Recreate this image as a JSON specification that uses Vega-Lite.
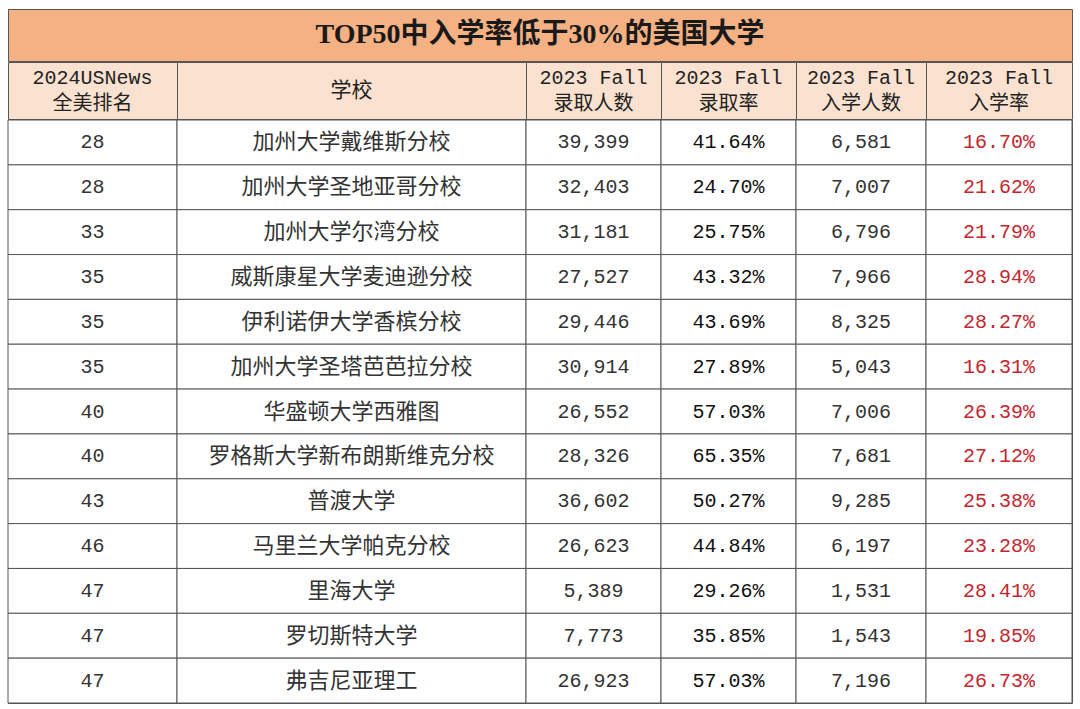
{
  "$schema": "https://vega.github.io/schema/vega-lite/v6.json",
  "padding": {"left": 7, "top": 8, "right": 8, "bottom": 4},
  "background": "white",
  "spacing": -2,
  "config": {"concat": {"spacing": 0}},
  "datasets": {
    "rows": [
      {"rank": 28, "school": "加州大学戴维斯分校", "admitted": 39399, "admit_rate": 0.4164, "enrolled": 6581, "yield": 0.1670},
      {"rank": 28, "school": "加州大学圣地亚哥分校", "admitted": 32403, "admit_rate": 0.2470, "enrolled": 7007, "yield": 0.2162},
      {"rank": 33, "school": "加州大学尔湾分校", "admitted": 31181, "admit_rate": 0.2575, "enrolled": 6796, "yield": 0.2179},
      {"rank": 35, "school": "威斯康星大学麦迪逊分校", "admitted": 27527, "admit_rate": 0.4332, "enrolled": 7966, "yield": 0.2894},
      {"rank": 35, "school": "伊利诺伊大学香槟分校", "admitted": 29446, "admit_rate": 0.4369, "enrolled": 8325, "yield": 0.2827},
      {"rank": 35, "school": "加州大学圣塔芭芭拉分校", "admitted": 30914, "admit_rate": 0.2789, "enrolled": 5043, "yield": 0.1631},
      {"rank": 40, "school": "华盛顿大学西雅图", "admitted": 26552, "admit_rate": 0.5703, "enrolled": 7006, "yield": 0.2639},
      {"rank": 40, "school": "罗格斯大学新布朗斯维克分校", "admitted": 28326, "admit_rate": 0.6535, "enrolled": 7681, "yield": 0.2712},
      {"rank": 43, "school": "普渡大学", "admitted": 36602, "admit_rate": 0.5027, "enrolled": 9285, "yield": 0.2538},
      {"rank": 46, "school": "马里兰大学帕克分校", "admitted": 26623, "admit_rate": 0.4484, "enrolled": 6197, "yield": 0.2328},
      {"rank": 47, "school": "里海大学", "admitted": 5389, "admit_rate": 0.2926, "enrolled": 1531, "yield": 0.2841},
      {"rank": 47, "school": "罗切斯特大学", "admitted": 7773, "admit_rate": 0.3585, "enrolled": 1543, "yield": 0.1985},
      {"rank": 47, "school": "弗吉尼亚理工", "admitted": 26923, "admit_rate": 0.5703, "enrolled": 7196, "yield": 0.2673}
    ]
  },
  "vconcat": [
    {
      "width": 1064,
      "height": 52,
      "view": {"fill": "#F4B183", "stroke": "#555555", "strokeWidth": 1},
      "data": {"values": [{"title": "TOP50中入学率低于30%的美国大学"}]},
      "mark": {"type": "text", "font": "'Liberation Serif', 'Noto Sans CJK SC'", "fontSize": 28, "fontWeight": "bold", "color": "#1a1a1a", "baseline": "middle", "align": "center"},
      "encoding": {"text": {"field": "title"}}
    },
    {
      "spacing": 0,
      "bounds": "flush",
      "hconcat": [
        {"width": 169, "height": 57, "view": {"fill": "#FBE2D0", "stroke": "#555555"}, "data": {"values": [{"h": "2024USNews\n全美排名"}]},
         "mark": {"type": "text", "lineBreak": "\n", "lineHeight": 26, "dy": -13, "font": "'Liberation Mono', 'Noto Sans CJK SC'", "fontSize": 20, "color": "#222222", "baseline": "middle", "align": "center"},
         "encoding": {"text": {"field": "h"}}},
        {"width": 349, "height": 57, "view": {"fill": "#FBE2D0", "stroke": "#555555"}, "data": {"values": [{"h": "学校"}]},
         "mark": {"type": "text", "font": "'Liberation Mono', 'Noto Sans CJK SC'", "fontSize": 21, "color": "#222222", "baseline": "middle", "align": "center"},
         "encoding": {"text": {"field": "h"}}},
        {"width": 135, "height": 57, "view": {"fill": "#FBE2D0", "stroke": "#555555"}, "data": {"values": [{"h": "2023 Fall\n录取人数"}]},
         "mark": {"type": "text", "lineBreak": "\n", "lineHeight": 26, "dy": -13, "font": "'Liberation Mono', 'Noto Sans CJK SC'", "fontSize": 20, "color": "#222222", "baseline": "middle", "align": "center"},
         "encoding": {"text": {"field": "h"}}},
        {"width": 135, "height": 57, "view": {"fill": "#FBE2D0", "stroke": "#555555"}, "data": {"values": [{"h": "2023 Fall\n录取率"}]},
         "mark": {"type": "text", "lineBreak": "\n", "lineHeight": 26, "dy": -13, "font": "'Liberation Mono', 'Noto Sans CJK SC'", "fontSize": 20, "color": "#222222", "baseline": "middle", "align": "center"},
         "encoding": {"text": {"field": "h"}}},
        {"width": 130, "height": 57, "view": {"fill": "#FBE2D0", "stroke": "#555555"}, "data": {"values": [{"h": "2023 Fall\n入学人数"}]},
         "mark": {"type": "text", "lineBreak": "\n", "lineHeight": 26, "dy": -13, "font": "'Liberation Mono', 'Noto Sans CJK SC'", "fontSize": 20, "color": "#222222", "baseline": "middle", "align": "center"},
         "encoding": {"text": {"field": "h"}}},
        {"width": 146, "height": 57, "view": {"fill": "#FBE2D0", "stroke": "#555555"}, "data": {"values": [{"h": "2023 Fall\n入学率"}]},
         "mark": {"type": "text", "lineBreak": "\n", "lineHeight": 26, "dy": -13, "font": "'Liberation Mono', 'Noto Sans CJK SC'", "fontSize": 20, "color": "#222222", "baseline": "middle", "align": "center"},
         "encoding": {"text": {"field": "h"}}}
      ]
    },
    {
      "spacing": 0,
      "bounds": "flush",
      "data": {"name": "rows"},
      "hconcat": [
        {"width": 169, "height": 583, "view": {"stroke": "#555555"},
         "encoding": {"y": {"field": "school", "type": "nominal", "sort": null, "axis": null, "scale": {"paddingInner": 0, "paddingOuter": 0}}},
         "layer": [
           {"mark": {"type": "rect", "fill": "white", "stroke": "#555555", "strokeWidth": 1}},
           {"mark": {"type": "text", "font": "'Liberation Mono', 'Noto Sans CJK SC'", "fontSize": 20, "color": "#333333", "baseline": "middle"},
            "encoding": {"text": {"field": "rank"}}}
         ]},
        {"width": 349, "height": 583, "view": {"stroke": "#555555"},
         "encoding": {"y": {"field": "school", "type": "nominal", "sort": null, "axis": null, "scale": {"paddingInner": 0, "paddingOuter": 0}}},
         "layer": [
           {"mark": {"type": "rect", "fill": "white", "stroke": "#555555", "strokeWidth": 1}},
           {"mark": {"type": "text", "font": "'Liberation Serif', 'Noto Sans CJK SC'", "fontSize": 22, "color": "#333333", "baseline": "middle"},
            "encoding": {"text": {"field": "school"}}}
         ]},
        {"width": 135, "height": 583, "view": {"stroke": "#555555"},
         "encoding": {"y": {"field": "school", "type": "nominal", "sort": null, "axis": null, "scale": {"paddingInner": 0, "paddingOuter": 0}}},
         "layer": [
           {"mark": {"type": "rect", "fill": "white", "stroke": "#555555", "strokeWidth": 1}},
           {"mark": {"type": "text", "font": "'Liberation Mono', 'Noto Sans CJK SC'", "fontSize": 20, "color": "#333333", "baseline": "middle"},
            "encoding": {"text": {"field": "admitted", "type": "quantitative", "format": ","}}}
         ]},
        {"width": 135, "height": 583, "view": {"stroke": "#555555"},
         "encoding": {"y": {"field": "school", "type": "nominal", "sort": null, "axis": null, "scale": {"paddingInner": 0, "paddingOuter": 0}}},
         "layer": [
           {"mark": {"type": "rect", "fill": "white", "stroke": "#555555", "strokeWidth": 1}},
           {"mark": {"type": "text", "font": "'Liberation Mono', 'Noto Sans CJK SC'", "fontSize": 20, "color": "#111111", "baseline": "middle"},
            "encoding": {"text": {"field": "admit_rate", "type": "quantitative", "format": ".2%"}}}
         ]},
        {"width": 130, "height": 583, "view": {"stroke": "#555555"},
         "encoding": {"y": {"field": "school", "type": "nominal", "sort": null, "axis": null, "scale": {"paddingInner": 0, "paddingOuter": 0}}},
         "layer": [
           {"mark": {"type": "rect", "fill": "white", "stroke": "#555555", "strokeWidth": 1}},
           {"mark": {"type": "text", "font": "'Liberation Mono', 'Noto Sans CJK SC'", "fontSize": 20, "color": "#333333", "baseline": "middle"},
            "encoding": {"text": {"field": "enrolled", "type": "quantitative", "format": ","}}}
         ]},
        {"width": 146, "height": 583, "view": {"stroke": "#555555"},
         "encoding": {"y": {"field": "school", "type": "nominal", "sort": null, "axis": null, "scale": {"paddingInner": 0, "paddingOuter": 0}}},
         "layer": [
           {"mark": {"type": "rect", "fill": "white", "stroke": "#555555", "strokeWidth": 1}},
           {"mark": {"type": "text", "font": "'Liberation Mono', 'Noto Sans CJK SC'", "fontSize": 20, "color": "#C4262E", "baseline": "middle"},
            "encoding": {"text": {"field": "yield", "type": "quantitative", "format": ".2%"}}}
         ]}
      ]
    }
  ]
}
